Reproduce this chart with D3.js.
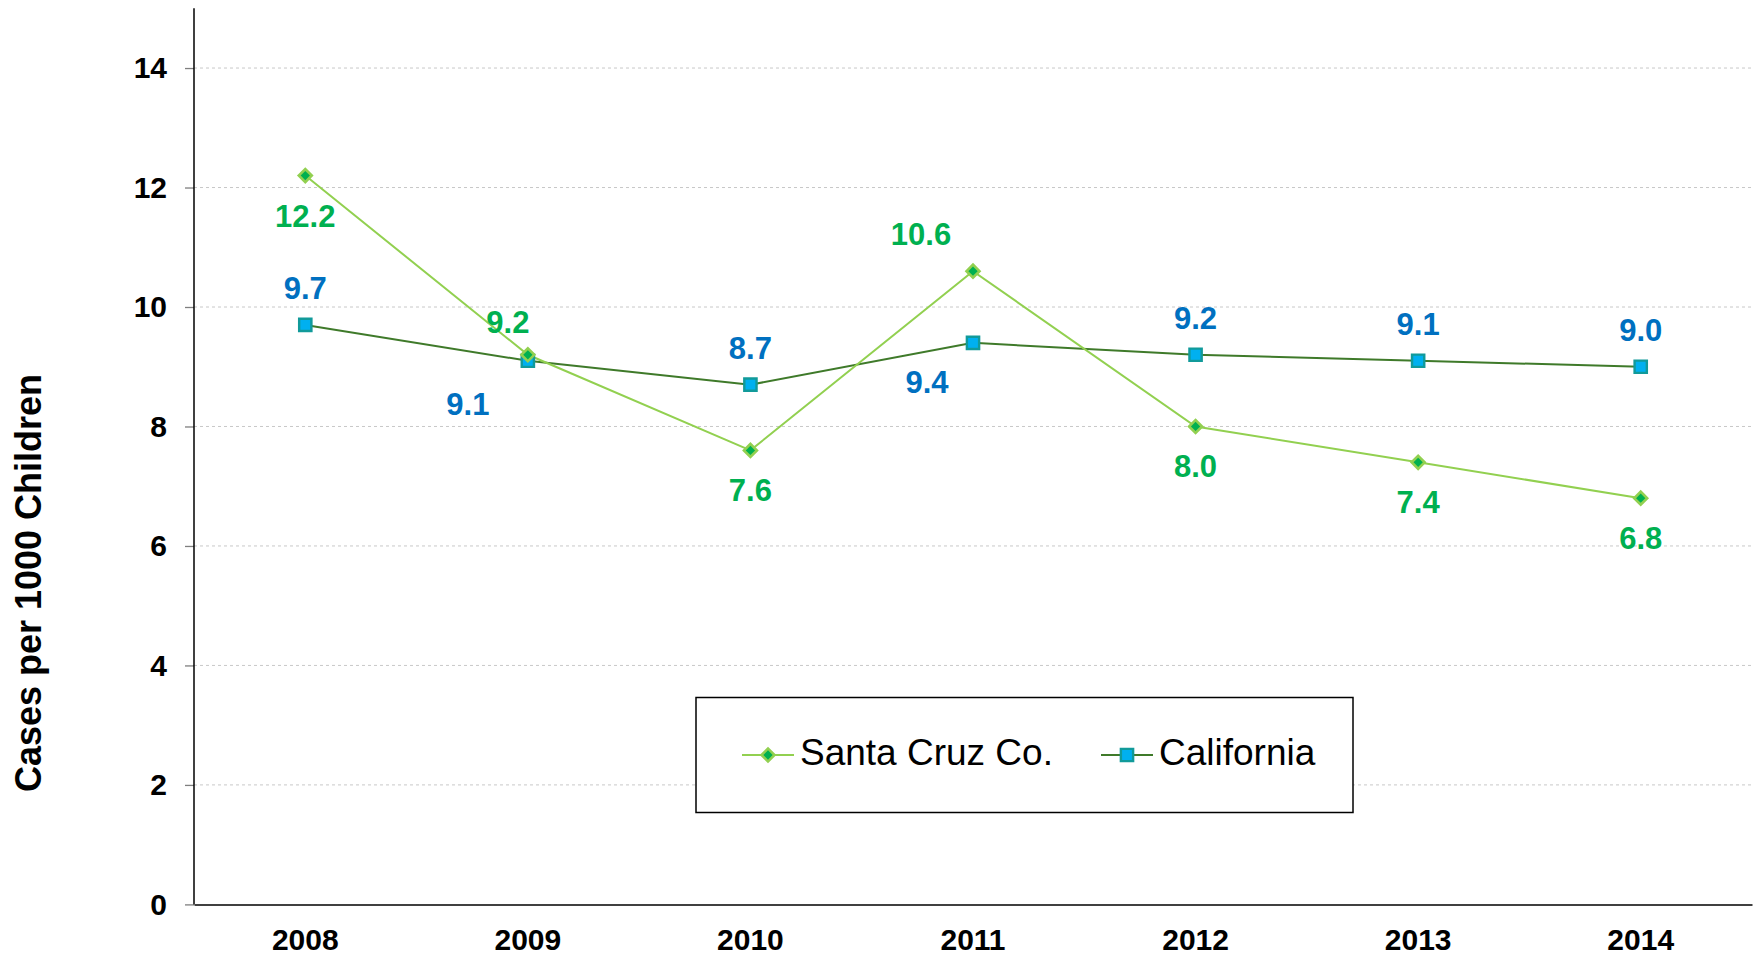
<!DOCTYPE html>
<html>
<head>
<meta charset="utf-8">
<style>
    body { margin: 0; background: #fff; }
    svg { display: block; font-family: "Liberation Sans", Arial, sans-serif; }
</style>
<script src="https://cdn.jsdelivr.net/npm/d3@7"></script>
</head>
<body>
<div id="container"></div>
<script>
// chart values
const years = ["2008", "2009", "2010", "2011", "2012", "2013", "2014"];
const santaCruz = [12.2, 9.2, 7.6, 10.6, 8.0, 7.4, 6.8];
const california = [9.7, 9.1, 8.7, 9.4, 9.2, 9.1, 9.0];
const yTicks = [0, 2, 4, 6, 8, 10, 12, 14];
const seriesNames = ["Santa Cruz Co.", "California"];

// where each data label sits relative to its point
const scLabelPos = ["below", "aboveLeft", "below", "aboveLeftFar", "below", "below", "below"];
const caLabelPos = ["above", "belowLeftFar", "above", "belowLeft", "above", "above", "above"];

const width = 1756;
const height = 958;
const plotLeft = 194;
const plotRight = 1752;
const plotTop = 8.3;
const plotBottom = 904.4;

const COLORS = {
    scLine: "#92D050",
    scFill: "#00B050",
    scText: "#00B050",
    caLine: "#3F7A2A",
    caFill: "#00B0F0",
    caStroke: "#119A9A",
    caText: "#0070C0"
};

const x = d3.scaleBand()
    .domain(years)
    .range([plotLeft, plotRight])
    .padding(0);
const xc = d => x(d) + x.bandwidth() / 2;

const y = d3.scaleLinear()
    .domain([0, 15])
    .range([plotBottom, plotTop]);

const svg = d3.create("svg")
    .attr("width", width)
    .attr("height", height);

// gridlines
svg.append("g")
    .selectAll("line")
    .data(yTicks.filter(t => t > 0))
    .join("line")
        .attr("x1", plotLeft)
        .attr("x2", plotRight)
        .attr("y1", d => y(d))
        .attr("y2", d => y(d))
        .attr("stroke", "#c8c8c8")
        .attr("stroke-width", 1)
        .attr("stroke-dasharray", "3,3");

// y axis
const yAxis = svg.append("g")
    .attr("transform", `translate(${plotLeft},0)`)
    .call(d3.axisLeft(y).tickValues(yTicks).tickSize(9).tickPadding(18).tickFormat(d3.format("d")));
yAxis.select(".domain").remove();
yAxis.selectAll(".tick line").attr("stroke", "#7f7f7f").attr("stroke-width", 1.3);
yAxis.selectAll(".tick text")
    .attr("fill", "#000")
    .style("font-size", "30px")
    .style("font-weight", "bold")
    .style("font-family", "'Liberation Sans', Arial, sans-serif");

svg.append("line")
    .attr("x1", plotLeft).attr("x2", plotLeft)
    .attr("y1", plotTop).attr("y2", plotBottom)
    .attr("stroke", "#000").attr("stroke-width", 1.5);

// x axis
const xAxis = svg.append("g")
    .attr("transform", `translate(0,${plotBottom})`)
    .call(d3.axisBottom(x).tickSize(0).tickPadding(24));
xAxis.select(".domain").attr("stroke", "#000").attr("stroke-width", 1.5);
xAxis.selectAll(".tick text")
    .attr("fill", "#000")
    .style("font-size", "30px")
    .style("font-weight", "bold")
    .style("font-family", "'Liberation Sans', Arial, sans-serif");

// axis title
svg.append("text")
    .attr("transform", `translate(41,583) rotate(-90)`)
    .attr("text-anchor", "middle")
    .style("font-size", "36px")
    .style("font-weight", "bold")
    .text("Cases per 1000 Children");

// lines
const line = d3.line()
    .x((d, i) => xc(years[i]))
    .y(d => y(d));

svg.append("path")
    .datum(california)
    .attr("fill", "none")
    .attr("stroke", COLORS.caLine)
    .attr("stroke-width", 2)
    .attr("d", line);

svg.append("path")
    .datum(santaCruz)
    .attr("fill", "none")
    .attr("stroke", COLORS.scLine)
    .attr("stroke-width", 2)
    .attr("d", line);

// markers
const diamond = d3.symbol().type(d3.symbolSquare).size(84);
const square = d3.symbol().type(d3.symbolSquare).size(150);

svg.append("g")
    .selectAll("path")
    .data(california)
    .join("path")
        .attr("d", square)
        .attr("transform", (d, i) => `translate(${xc(years[i])},${y(d)})`)
        .attr("fill", COLORS.caFill)
        .attr("stroke", COLORS.caStroke)
        .attr("stroke-width", 2.4);

svg.append("g")
    .selectAll("path")
    .data(santaCruz)
    .join("path")
        .attr("d", diamond)
        .attr("transform", (d, i) => `translate(${xc(years[i])},${y(d)}) rotate(45)`)
        .attr("fill", COLORS.scFill)
        .attr("stroke", COLORS.scLine)
        .attr("stroke-width", 2.6);

// data labels
const offsets = {
    above: [0, -26],
    below: [0, 51],
    aboveLeft: [-20, -22],
    aboveLeftFar: [-52, -26],
    belowLeft: [-46, 50],
    belowLeftFar: [-60, 54]
};

function addLabels(values, positions, color) {
    svg.append("g")
        .selectAll("text")
        .data(values)
        .join("text")
            .attr("x", (d, i) => xc(years[i]) + offsets[positions[i]][0])
            .attr("y", (d, i) => y(d) + offsets[positions[i]][1])
            .attr("text-anchor", "middle")
            .attr("fill", color)
            .style("font-size", "31px")
            .style("font-weight", "bold")
            .text(d => d3.format(".1f")(d));
}
addLabels(santaCruz, scLabelPos, COLORS.scText);
addLabels(california, caLabelPos, COLORS.caText);

// legend
const legend = svg.append("g");
legend.append("rect")
    .attr("x", 696).attr("y", 697.5)
    .attr("width", 657).attr("height", 115)
    .attr("fill", "#fff")
    .attr("stroke", "#000")
    .attr("stroke-width", 1.5);

const legendY = 755;
const legendItems = [
    { name: seriesNames[0], x0: 742, line: COLORS.scLine, kind: "diamond" },
    { name: seriesNames[1], x0: 1101, line: COLORS.caLine, kind: "square" }
];
legendItems.forEach(item => {
    legend.append("line")
        .attr("x1", item.x0).attr("x2", item.x0 + 52)
        .attr("y1", legendY).attr("y2", legendY)
        .attr("stroke", item.line).attr("stroke-width", 2);
    if (item.kind === "diamond") {
        legend.append("path")
            .attr("d", diamond)
            .attr("transform", `translate(${item.x0 + 26},${legendY}) rotate(45)`)
            .attr("fill", COLORS.scFill)
            .attr("stroke", COLORS.scLine)
            .attr("stroke-width", 2.6);
    } else {
        legend.append("path")
            .attr("d", square)
            .attr("transform", `translate(${item.x0 + 26},${legendY})`)
            .attr("fill", COLORS.caFill)
            .attr("stroke", COLORS.caStroke)
            .attr("stroke-width", 2.4);
    }
    legend.append("text")
        .attr("x", item.x0 + 58)
        .attr("y", legendY + 10)
        .style("font-size", "37px")
        .attr("fill", "#000")
        .text(item.name);
});

document.getElementById("container").append(svg.node());
</script>
</body>
</html>
